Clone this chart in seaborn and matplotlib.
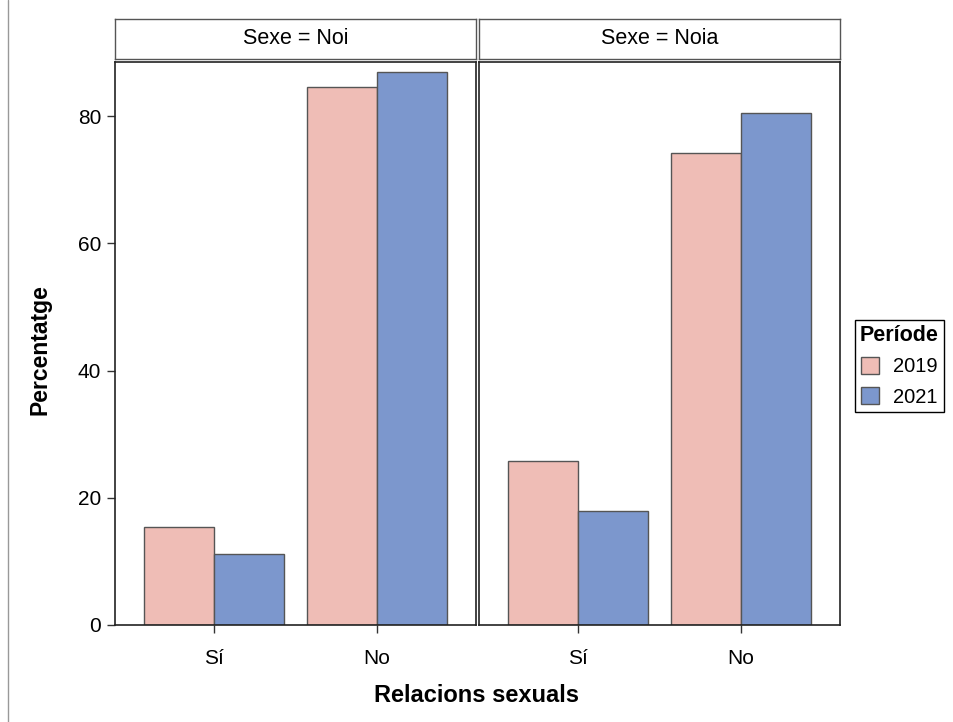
import pandas as pd
import matplotlib.pyplot as plt
import seaborn as sns
from matplotlib.patches import Patch
from matplotlib.lines import Line2D

# ============================
# 데이터
# ============================
sexes = ["Noi", "Noia"]
relacions = ["Sí", "No"]
periodes = ["2019", "2021"]
noi_2019 = [15.4, 84.6]
noi_2021 = [11.2, 86.9]
noia_2019 = [25.8, 74.2]
noia_2021 = [17.9, 80.5]

values = {
    ("Noi", "2019"): noi_2019,
    ("Noi", "2021"): noi_2021,
    ("Noia", "2019"): noia_2019,
    ("Noia", "2021"): noia_2021,
}
rows = []
for (s, p), vals in values.items():
    for r, v in zip(relacions, vals):
        rows.append({"Sexe": s, "Periode": p, "Relacions": r, "Pct": v})
df = pd.DataFrame(rows)

colors = {"2019": "#EFBDB6", "2021": "#7C97CD"}

# ============================
# 그림
# ============================
sns.set_style("white")
plt.rcParams["font.family"] = ["Liberation Sans", "DejaVu Sans"]
plt.rcParams["text.color"] = "black"
plt.rcParams["xtick.color"] = "black"
plt.rcParams["ytick.color"] = "black"

W, H = 954, 722
fig = plt.figure(figsize=(W / 100, H / 100), dpi=100)

panels = [(115, 476), (479, 840)]
top, bottom = 62, 625
h_top, h_bot = 19, 59

for i, (sexe, (x0, x1)) in enumerate(zip(sexes, panels)):
    ax = fig.add_axes([x0 / W, 1 - bottom / H, (x1 - x0) / W, (bottom - top) / H])
    sub = df[df["Sexe"] == sexe]
    sns.barplot(
        data=sub, x="Relacions", y="Pct", hue="Periode",
        order=relacions, hue_order=periodes, palette=colors,
        width=0.86, edgecolor="#555555", linewidth=1,
        saturation=1, errorbar=None, legend=False, ax=ax
    )
    ax.set_xlim(-0.607, 1.607)
    ax.set_ylim(0, 88.5)
    ax.set_xlabel("")
    ax.set_ylabel("")
    for sp in ax.spines.values():
        sp.set_color("#222222")
        sp.set_linewidth(1.2)
    ax.tick_params(axis="x", bottom=True, length=6, width=1, color="#333333",
                   labelsize=15, pad=11)
    ax.set_yticks([0, 20, 40, 60, 80])
    if i == 0:
        ax.tick_params(axis="y", left=True, length=6, width=1, color="#333333",
                       labelsize=15, pad=4)
    else:
        ax.tick_params(axis="y", left=False, labelleft=False)

    # 패널 헤더
    hax = fig.add_axes([x0 / W, 1 - h_bot / H, (x1 - x0) / W, (h_bot - h_top) / H])
    hax.set_xticks([])
    hax.set_yticks([])
    for sp in hax.spines.values():
        sp.set_color("#555555")
        sp.set_linewidth(1)
    hax.text(0.5, 0.5, f"Sexe = {sexe}", ha="center", va="center", fontsize=15.5,
             transform=hax.transAxes)

fig.text(40 / W, 1 - 350 / H, "Percentatge", rotation=90, ha="center", va="center",
         fontsize=16.5, fontweight="bold")
fig.text(477 / W, 1 - 695 / H, "Relacions sexuals", ha="center", va="center",
         fontsize=17, fontweight="bold")

handles = [Patch(facecolor=colors[p], edgecolor="#555555", label=p) for p in periodes]
leg = fig.legend(handles=handles, title="Període", loc="upper left",
                 bbox_to_anchor=(855 / W, 1 - 320 / H), fontsize=14.5,
                 title_fontproperties={"weight": "bold", "size": 15.5},
                 fancybox=False, edgecolor="black", framealpha=1,
                 handlelength=0.9, handleheight=0.9, borderpad=0.25,
                 labelspacing=0.55, handletextpad=0.7, borderaxespad=0)
leg.get_frame().set_linewidth(1)

# 왼쪽 테두리 선
fig.add_artist(Line2D([8 / W, 8 / W], [0, 1], color="#999999", linewidth=1))

fig.savefig("out.png", dpi=100)
